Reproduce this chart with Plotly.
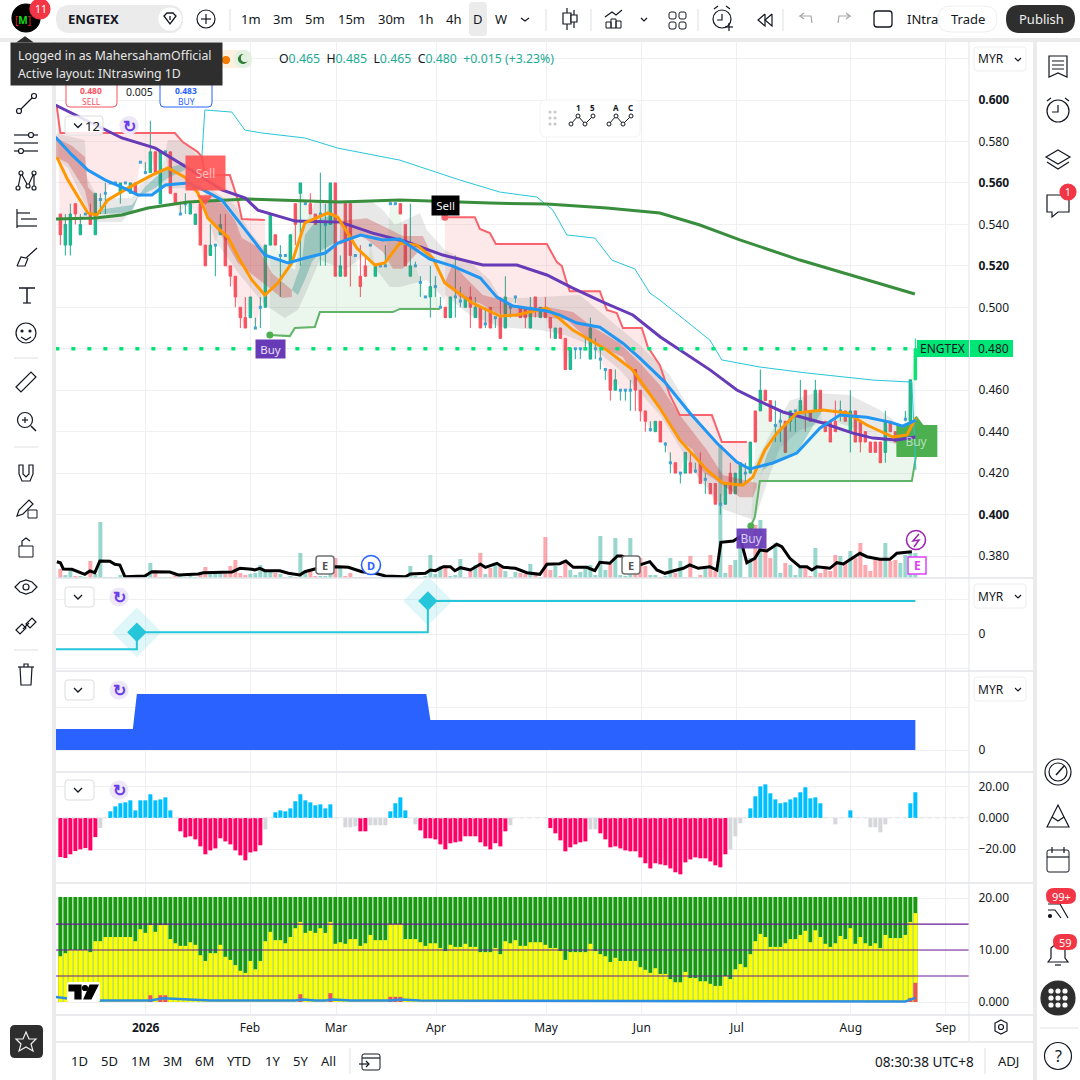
import numpy as np
import plotly.graph_objects as go


# Candles, prices in thousandths of a ringgit, one entry per daily bar
opens = [
    545, 530, 530, 550, 535, 545, 545, 535, 552, 555,
    560, 560, 555, 560, 555, 560, 570, 565, 565, 575,
    550, 575, 575, 555, 545, 550, 545, 540, 550, 530,
    525, 530, 535, 535, 520, 515, 500, 495, 495, 490,
    500, 500, 530, 535, 525, 525, 520, 550, 555, 550,
    550, 545, 545, 540, 540, 560, 515, 550, 550, 525,
    515, 520, 530, 515, 520, 520, 550, 550, 550, 540,
    515, 520, 512, 505, 505, 510, 500, 500, 495, 505,
    503, 500, 505, 495, 500, 492, 500, 495, 495, 490,
    500, 505, 500, 500, 490, 505, 495, 500, 495, 485,
    490, 485, 470, 480, 480, 480, 475, 480, 475, 470,
    470, 460, 460, 460, 460, 470, 460, 450, 441, 440,
    445, 434, 425, 425, 420, 420, 425, 421, 425, 417,
    415, 415, 405, 405, 420, 410, 415, 420, 420, 450,
    450, 460, 455, 443, 445, 445, 445, 450, 450, 460,
    450, 450, 460, 445, 445, 445, 450, 450, 440, 450,
    445, 440, 435, 435, 435, 430, 445, 440, 438, 446, 445, 465]
highs = [
    545, 545, 550, 550, 545, 545, 550, 555, 555, 560,
    560, 560, 560, 560, 560, 560, 570, 570, 590, 575,
    575, 575, 575, 555, 550, 555, 550, 545, 550, 530,
    540, 530, 545, 545, 520, 515, 500, 505, 505, 495,
    505, 530, 545, 535, 530, 525, 535, 550, 560, 550,
    555, 545, 565, 550, 560, 560, 525, 550, 550, 525,
    530, 525, 530, 520, 520, 530, 550, 550, 550, 540,
    550, 522, 515, 505, 520, 515, 505, 500, 505, 525,
    510, 505, 510, 505, 500, 500, 500, 495, 505, 515,
    500, 505, 500, 500, 505, 505, 500, 505, 495, 490,
    490, 485, 480, 480, 480, 485, 495, 485, 480, 470,
    470, 470, 460, 460, 465, 470, 460, 450, 445, 445,
    445, 435, 430, 425, 420, 430, 430, 425, 430, 420,
    415, 415, 410, 415, 425, 420, 425, 425, 435, 450,
    470, 460, 455, 455, 450, 445, 450, 450, 465, 460,
    450, 465, 460, 445, 445, 455, 455, 450, 460, 450,
    445, 440, 435, 435, 435, 450, 445, 440, 440, 450, 465, 485]
lows = [
    530, 525, 525, 540, 535, 545, 540, 535, 545, 545,
    560, 560, 550, 560, 555, 555, 570, 565, 565, 565,
    550, 575, 555, 550, 545, 545, 545, 540, 530, 520,
    525, 515, 535, 520, 510, 500, 490, 490, 495, 490,
    490, 500, 530, 530, 505, 525, 520, 530, 520, 550,
    545, 540, 520, 520, 540, 515, 515, 515, 510, 525,
    505, 515, 530, 515, 520, 520, 550, 550, 545, 520,
    515, 520, 505, 505, 495, 505, 500, 495, 495, 495,
    500, 500, 490, 495, 490, 490, 490, 490, 485, 490,
    495, 502, 495, 490, 490, 495, 495, 495, 485, 485,
    485, 470, 470, 475, 475, 480, 475, 475, 470, 465,
    455, 460, 455, 455, 450, 450, 445, 440, 440, 440,
    435, 430, 420, 420, 415, 420, 420, 420, 415, 410,
    410, 405, 400, 405, 410, 410, 415, 415, 420, 435,
    450, 455, 445, 435, 435, 430, 440, 440, 450, 440,
    445, 450, 450, 440, 435, 440, 445, 445, 430, 435,
    430, 435, 430, 430, 425, 425, 440, 435, 435, 445, 445, 465]
closes = [
    535, 540, 545, 545, 540, 545, 540, 555, 552, 555,
    560, 560, 560, 560, 560, 555, 570, 565, 575, 565,
    575, 575, 555, 550, 545, 550, 550, 545, 530, 520,
    530, 530, 540, 520, 515, 505, 495, 490, 505, 490,
    500, 530, 545, 530, 525, 525, 535, 540, 560, 550,
    545, 540, 545, 540, 560, 515, 520, 515, 525, 525,
    510, 515, 530, 520, 520, 520, 550, 550, 545, 520,
    520, 520, 512, 505, 510, 510, 500, 495, 505, 505,
    503, 505, 500, 500, 490, 492, 490, 495, 485, 505,
    500, 505, 495, 495, 500, 500, 500, 495, 490, 490,
    485, 470, 480, 480, 480, 480, 490, 480, 475, 470,
    460, 465, 460, 460, 460, 460, 450, 445, 441, 445,
    435, 434, 425, 420, 420, 430, 420, 421, 415, 417,
    410, 405, 405, 415, 410, 420, 425, 420, 435, 435,
    460, 455, 445, 443, 445, 430, 450, 450, 455, 450,
    445, 460, 450, 440, 435, 440, 450, 445, 450, 435,
    435, 435, 430, 430, 425, 445, 440, 435, 438, 446, 465, 480]
volumes = [
    9, 3, 7, 2, 2, 1, 17, 4, 56, 1,
    1, 1, 3, 1, 2, 3, 1, 3, 15, 8,
    1, 1, 1, 5, 3, 1, 2, 1, 5, 11,
    4, 4, 4, 4, 12, 18, 5, 3, 4, 5,
    13, 7, 6, 5, 4, 1, 2, 1, 25, 5,
    8, 2, 2, 2, 13, 20, 10, 2, 5, 1,
    1, 1, 1, 1, 1, 1, 1, 1, 1, 1,
    12, 2, 1, 2, 23, 4, 12, 13, 2, 3,
    19, 1, 7, 13, 25, 4, 10, 15, 13, 7,
    1, 6, 5, 4, 14, 4, 1, 41, 8, 12,
    2, 18, 8, 3, 6, 11, 13, 3, 42, 8,
    14, 40, 3, 2, 40, 10, 20, 12, 3, 3,
    1, 2, 20, 5, 17, 1, 22, 1, 3, 12,
    23, 7, 133, 5, 13, 18, 30, 1, 20, 53,
    58, 30, 20, 35, 5, 15, 13, 3, 10, 10,
    2, 30, 5, 12, 7, 23, 22, 15, 27, 20,
    35, 13, 7, 20, 18, 35, 17, 18, 15, 23, 25, 25]

# Overlay lines, (bar index, price in thousandths)
purple_x = [-1, 9, 12.3, 19, 25.5, 32.3, 37, 39.5, 47, 56, 62.5, 69.3, 76.5, 84.5, 91.3, 97.3,
            102.5, 108.5, 114.5, 120, 130, 135.3, 139.3, 144.5, 152.5, 158.5, 162.5, 167.3, 171]
purple_y = [597.6, 585.5, 581.7, 576.8, 567.2, 556.6, 552.7, 546.9, 541.6, 541.1, 535.8, 531.5,
            525.2, 520.4, 520.4, 515.6, 509.3, 502.5, 496.3, 485.7, 469.7, 460.1, 455.3, 449.5,
            444.2, 439.3, 436.9, 436, 437.4]
blue_x = [-1, 2.3, 5.5, 9, 12.3, 15.5, 18.3, 21, 25.5, 28.3, 32.3, 34.9, 37.5, 40.9, 45.5, 49, 53,
          55.5, 60, 64.5, 67.9, 73.9, 78.5, 84, 87.3, 90.5, 97.3, 99.9, 103.3, 107.9, 112.5,
          115.9, 120.9, 125.9, 131.3, 135.3, 137.9, 142.5, 147.3, 151.9, 155.9, 161.3, 165.9,
          168.5, 171.1]
blue_y = [582.1, 573.5, 566.2, 561.4, 558, 554.2, 554.2, 559, 560, 557, 551.8, 543.5, 535.8,
          525.2, 521.4, 523.8, 526.2, 531, 534.9, 532.5, 532.9, 523.3, 519.9, 514.1, 504.9,
          500.6, 498.2, 496.2, 492.4, 490.4, 482.7, 475.5, 463.9, 449, 434.5, 425.3, 422, 424.9,
          429.7, 441.7, 448, 447, 444.6, 442.7, 445.6]
orange_x = [-0.7, 1.5, 5.5, 7.3, 9.5, 13.5, 18.3, 21.5, 24.9, 27.5, 29.5, 31.5, 33.5, 35.9, 38.3,
            40.9, 43.5, 46.3, 48.9, 53.5, 55.5, 59.3, 62.9, 64.9, 67.9, 71.3, 74.5, 76.9, 82.5,
            87.9, 91.3, 97.3, 102.5, 109.3, 114.5, 119.9, 123.9, 129.3, 132.5, 136.5, 138.5,
            140.9, 143.3, 147.3, 152.5, 157.3, 161.3, 166.5, 169.3, 171.1]
orange_y = [572.5, 561.4, 545.5, 544.5, 551.8, 557.5, 563.8, 567.2, 562.8, 555.1, 543.1, 538.2,
            533.9, 522.8, 513.2, 505.9, 511.7, 521.4, 540.7, 545.5, 543.5, 528.6, 520.4, 521.4,
            531, 530, 523.8, 511.7, 502, 495.8, 496.3, 499.6, 489, 479.4, 469.7, 451.4, 435.9,
            421.5, 415.2, 414.2, 418.1, 431.1, 439.3, 449, 450.4, 449, 443.2, 437.4, 438.4, 446.6]
sma_x = [-1, 7, 12.3, 17.5, 25.5, 37.5, 55.9, 67.9, 85.9, 97.3, 109.3, 119.9, 127.9, 135.9, 147.9,
         157.9, 170.9]
sma_y = [542.6, 543.1, 544.5, 547.9, 550.8, 552.2, 550.8, 551.8, 550.3, 549.8, 547.9, 545.5, 539.7,
         532.5, 522.8, 515.6, 506.4]
cyan_x = [28.3, 28.9, 34.3, 36.9, 40.3, 48.9, 55.5, 67.9, 79.9, 87.9, 95.3, 98.5, 101.3, 106.9,
          110.3, 114.9, 117.9, 119.9, 124.9, 129.9, 132.3, 139.9, 149.3, 162.5, 170.3, 171.1]
cyan_y = [572.5, 595.2, 594.2, 585.5, 584.1, 581.7, 576.8, 571, 561.4, 555.6, 553.2, 546.9, 534.9,
          533.4, 522.8, 518.5, 506.9, 503.5, 493.9, 484.2, 474.6, 471.2, 468.3, 464.9, 463.9, 421.5]

# Stop lines
red1_x = [-0.7, 0, 22.9, 24.5, 27.5, 28.3, 28.9, 33.9, 35.5, 36.3, 40.9]
red1_y = [596.6, 584.1, 584.1, 579.7, 574.9, 572.5, 563.8, 563.8, 551.8, 542.6, 542.1]
red2_x = [76.9, 82.9, 83.9, 85.9, 87.1, 97.3, 99.3, 100.3, 101.3, 101.9, 107.9, 109.3, 111.3, 112.5,
          116.3, 117.5, 119.9, 121.9, 123.9, 130.3, 132.3, 137.3]
red2_y = [543.5, 543.5, 537.8, 535.8, 530.5, 530.5, 521.8, 519.9, 511.7, 507.8, 507.8, 498.7, 497.2,
          490, 490, 480.8, 472.1, 457.7, 448, 448, 435, 435]
green1_x = [41.9, 45.9, 46.9, 50.9, 51.9, 66.5, 67.9, 75.9]
green1_y = [486.6, 486.1, 490, 490.5, 497.7, 497.7, 499.2, 499.2]
green2_x = [138.1, 138.9, 139.9, 170.3, 171.1]
green2_y = [394.5, 398.8, 416.2, 416.2, 427.7]

# Ribbons and clouds, outline read as upper side then lower side
cloud1_x = [-1, 4.9, 5.3, 7.5, 14.3, 15.9, 20.3, 21.5, 24.3, 27.5, 28.3,
            28.3, 25.5, 20.3, 15.5, 14.5, 12.3, 7.5, 5.5, 1.5, -1]
cloud1_y = [584, 580.7, 562.8, 552.7, 552.7, 559, 567.2, 580.7, 580.7, 573, 564.8,
            557.5, 557.5, 557.5, 552.7, 547.9, 541.2, 541.2, 547, 567.2, 572.5]
cloud2_x = [28.9, 34.9, 37.9, 41.9, 46.9, 48.5, 51.1, 56.9, 56.9, 51.9, 48.9, 47.5, 44.9, 40.9, 35.9, 30.9, 28.9]
cloud2_y = [559, 549.3, 536.3, 525.2, 518, 537.3, 551.8, 551.8, 518, 522.8, 505.9, 498.7, 494.8, 501.1, 515.6, 532.5, 549.3]
cloud3_x = [56.9, 61.9, 64.5, 66.9, 71.9, 73.3, 76.9, 76.9, 73.3, 67.9, 65.9, 60.9, 56.9]
cloud3_y = [551.8, 551.8, 547, 539.7, 545.5, 537.3, 527.6, 503.5, 513.2, 509.8, 509.8, 525.2, 518]
cloud4_x = [76.9, 81.9, 85.9, 87.9, 91.9, 103.9, 109.9, 115.9, 121.9, 125.9, 130.9, 133.9, 138.3, 141.9,
            145.9, 150.9, 157.9, 163.9, 167.9, 171.1, 171.1, 167.9, 163.9, 159.9, 153.9, 147.9, 143.9,
            141.5, 138.9, 132.9, 127.9, 124.9, 119.9, 111.9, 105.9, 100.9, 95.9, 87.9, 81.9, 76.9]
cloud4_y = [527.6, 521.8, 513.2, 505, 504.5, 505.9, 493.9, 481.8, 467.3, 450.4, 436, 428.7, 421.5, 438.4,
            455, 458.6, 457.7, 450.4, 443.2, 445.6, 436, 433.5, 436, 440.8, 445.6, 440.8, 432.1,
            416.7, 397.3, 402.2, 416.7, 428.7, 448, 469.7, 481.8, 486.6, 489, 490.5, 496.3, 505.9]
ribbon1_x = [-1, 2.3, 4.9, 5.5, 7.3, 7.3, 5.9, 4.9, 1.5, -1]
ribbon1_y = [582, 578, 572.5, 558, 553.2, 544.5, 545.5, 556.6, 569.6, 572.5]
ribbon2_x = [28.3, 32.3, 34.9, 36.3, 39.5, 42.3, 46.3, 46.3, 44.3, 41.5, 38.9, 35.5, 32.9, 29.5, 28.3]
ribbon2_y = [553.2, 550.3, 542.1, 533.4, 529.1, 516.5, 508.3, 505, 504.5, 509.8, 514.6, 521.4, 532.5, 543.5, 550.3]
ribbon3_x = [55.9, 61.3, 64.5, 68.5, 72.5, 74.9, 72, 68.5, 66.5, 64.5, 60, 55.9]
ribbon3_y = [541.6, 543, 539.2, 534.4, 534.4, 522.3, 528, 518.6, 518.6, 526.8, 534.9, 530.1]
ribbon4_x = [76.9, 78.5, 80.9, 84.5, 88.5, 91.9, 97.3, 102.5, 106.5, 111.9, 115.9, 119.9, 123.9, 125.9,
             129.3, 132.5, 139.3, 139.3, 138.5, 135.9, 131.9, 128.5, 126.5, 123.9, 120.5, 115.9, 112.5,
             106.5, 101.3, 96.5, 91.3, 87.3, 83.9, 79.9]
ribbon4_y = [511.7, 521.4, 514.6, 505.9, 503.5, 500.1, 500.1, 497.7, 490.5, 482.7, 473.1, 462.5, 448, 441.7,
             431.1, 419.1, 415.2, 413.3, 408.4, 408.4, 415.2, 420.5, 431.1, 435.9, 450.4, 462.5, 476,
             482.8, 493.9, 495.3, 495.3, 497.2, 502, 504.9]
teal1_x = [7.5, 14.3, 16.9, 18.9, 21.5, 24.9, 24.9, 21.5, 18.9, 15.5, 14.3, 7.5]
teal1_y = [546.9, 549.3, 558, 562.4, 567.2, 569.6, 566.2, 562.4, 557.5, 553.2, 545.5, 545]
teal2_x = [46.3, 48.3, 48.9, 50.3, 52.3, 54.9, 54.9, 52.3, 50.3, 48.9, 47.5]
teal2_y = [508.3, 521.8, 534.9, 539.2, 543.1, 544.5, 531, 527.6, 521.8, 513.2, 505.9]
teal3_x = [139.9, 141.3, 143.3, 147.3, 152.5, 147.3, 142.5, 140.5]
teal3_y = [417.6, 428.7, 439.3, 449, 450.4, 429.7, 424.9, 421.5]

# Green buy flag, sits under the lines
flag_x = [167.2, 175.4, 175.4, 167.2]
flag_y = [443.2, 443.2, 427.8, 427.8]

# Black line over the volume bars, same units as volumes
black_x = [-0.7, 0, 0.6, 2.3, 4.9, 5.9, 6.9, 7.9, 9.9, 10.9, 11.9, 12.9, 16.9, 18.3, 21.9, 23.6, 27.6,
           28.6, 34.3, 35.9, 38.3, 38.9, 39.9, 40.9, 43.9, 45.6, 47.9, 48.9, 50.9, 52.9, 55.6, 57.6,
           60.3, 63, 65, 69, 70, 73, 74, 75, 76.6, 78, 78.9, 80, 82, 84, 85, 87.3, 88.6, 91, 93.3,
           95.9, 97.3, 99.9, 101.1, 102.6, 105.3, 106.9, 107.9, 109.9, 111.4, 112.3, 115.9, 117.9,
           119.3, 120.9, 123.3, 124.6, 125.9, 127.6, 129.9, 131.3, 132.1, 134.6, 135.9, 137.3, 138.9,
           139.9, 141.3, 143.3, 144.3, 145.9, 147.9, 149.3, 150.3, 151.3, 153.9, 155.3, 156.6, 159.9,
           161.3, 163.9, 165.9, 167.3, 170.3]
black_y = [16.3, 15.3, 9, 8.7, 3.7, 7, 5.3, 17, 16.7, 13.7, 13, 1.3, 2, 6.3, 6, 3, 4,
           5.3, 6, 9.7, 8.7, 8, 9.7, 7.3, 7.3, 4.7, 3, 6.3, 9, 11, 11.3, 10.7,
           6.3, 4.7, 2, 1.3, 4, 4.7, 8, 7.3, 11.3, 11.3, 7.3, 10.3, 8, 13.7, 10.7, 14.7, 10.7, 9.7, 5.3,
           3.7, 13.7, 14.3, 17, 10.7, 10.7, 7.3, 15.7, 14.7, 22, 22, 13, 16.3,
           8, 4.7, 8, 9.7, 13, 9.7, 11.3, 8, 35.7, 37, 41.3, 15.3, 19.7,
           28, 27, 33.7, 31.3, 19.7, 11.3, 11.3, 8, 11.3, 9.7, 15.3, 14, 24.7,
           21.3, 18.7, 18.7, 24.7, 26.3]

# Second pane, step line with two diamonds
step_x = [-1, 15.3, 15.3, 73.5, 73.5, 171]
step_y = [-0.44, -0.44, 0.05, 0.05, 0.96, 0.96]
diamond_x = [15.3, 73.5]
diamond_y = [0.05, 0.96]

# Third pane, blue area
area_x = [-1, 14.5, 15.3, 73.2, 74, 171]
area_y = [21, 21, 56, 56, 30, 30]

# Fourth pane, histogram
hist_values = [
    -25.2, -25.8, -23.4, -21.3, -20.2, -19.4, -20.9, -12.3, -6.5, 0,
    4.3, 7.5, 9.5, 10.1, 11.4, 4.9, 11.4, 11.4, 15.3, 11.4,
    12, 13.3, 4.9, 0, -8.6, -12.5, -11.8, -13.8, -18.3, -23.4,
    -20.9, -19.6, -13.1, -15.1, -17, -20.9, -24.1, -27.3, -22.2, -21.5,
    -17.6, -7.3, 0, 3.7, 4.9, 4.3, 6.2, 10.8, 15.3, 11.4,
    10.1, 8.2, 8.8, 6.2, 8.8, 0, 0, -6, -6, -5.4,
    -8.6, -8.6, -4.7, -4.7, -4.7, -4.7, 4.3, 9.5, 13.3, 4.9,
    0, -4.1, -8, -13.1, -13.1, -13.8, -17, -20.2, -16.3, -15.7,
    -15.1, -11.8, -11.8, -11.8, -15.7, -18.3, -20.2, -16.3, -18.3, -8.6,
    -4.7, 0, 0, 0, 0, 0, 0, 0, -6.5, -9.9,
    -14.4, -21.5, -18.9, -17, -15.7, -15.1, -7.3, -7.3, -9.9, -13.8,
    -18.9, -18.3, -19.6, -20.9, -21.5, -21.5, -25.4, -29.2, -32.5, -29.2,
    -29.9, -30.5, -32.5, -35, -36.3, -28.6, -26.7, -25.4, -26, -26,
    -28, -30.5, -31.8, -23.4, -20.2, -11.8, -3.4, 0, 6.2, 14,
    20.4, 21.7, 15.9, 12, 9.5, 10.1, 12, 13.3, 16.6, 19.8,
    12.7, 13.3, 9.5, 0, 0, -4.1, 0, 0, 4.9, 0,
    0, 0, -6, -6, -9.2, -4.1, 0, 0, 0, 0, 9.5, 16.6]
hist_gray = [8, 41, 57, 58, 59, 62, 63, 64, 65, 71, 90, 106, 107, 134, 135, 136, 155, 162, 163, 164, 165]

# Fifth pane, overlaid columns and levels
column_top = 20.2
yellow_values = [
    8.8, 9.4, 10, 10, 10, 10, 9.6, 11.7, 11.7, 12.5,
    12.5, 12.5, 12.5, 12.5, 12.5, 11.7, 14, 13.3, 14.8, 13.5,
    14.8, 14.8, 12.1, 11.3, 10.8, 10.8, 11.5, 11, 9, 7.9,
    9.4, 9.4, 11, 8.7, 8.1, 7.1, 6, 5.6, 7.9, 6.3,
    7.9, 11.7, 13.5, 11.9, 11.9, 11.3, 12.5, 14.2, 15.4, 13.3,
    13.7, 13.3, 14.2, 13.3, 15.4, 11.2, 11.5, 11.2, 12.1, 12.1,
    10.8, 11.3, 12.9, 11.9, 11.9, 11.9, 15, 15, 15, 12.1,
    12.1, 12.1, 11.5, 10.8, 11.3, 11.3, 10.4, 9.8, 11, 10.6,
    10.6, 11.2, 10.6, 10.6, 9.6, 9.6, 9.6, 10.4, 9.2, 11.7,
    11.3, 11.9, 10.8, 10.8, 11.5, 11.5, 11.5, 11, 10.4, 10.4,
    9.8, 8.1, 9.6, 9.6, 9.6, 9.6, 11.2, 9.8, 9.2, 8.8,
    7.7, 8.5, 7.9, 7.9, 7.9, 7.9, 6.7, 6.2, 5.6, 6.5,
    5.4, 5.4, 4.4, 3.8, 3.8, 5.8, 4.6, 4.6, 4, 4,
    3.5, 3.1, 3.1, 5, 4.4, 6.3, 7.3, 6.7, 9.2, 11.7,
    13.1, 12.5, 10.6, 10.6, 10.6, 11.3, 12.1, 12.1, 12.9, 13.7,
    11.5, 13.8, 12.5, 11.2, 10.6, 11.3, 12.7, 12.1, 14.2, 11.2,
    12.5, 11.3, 10.8, 11.3, 10.4, 12.9, 12.3, 12.3, 12.3, 12.9, 15.4, 17.1]
red_x = [18, 20, 21, 48, 54, 66, 67, 68, 170, 171]
red_values = [1.3, 1.3, 1.3, 1.5, 1.7, 1, 1, 1, 0.8, 3.7]
line5_x = [-1, 3, 6, 18, 20.5, 24, 30, 47, 48.5, 51, 53, 54.5, 58, 66, 68, 72, 169, 171]
line5_y = [1, 0.5, 0.3, 0.3, 0.7, 0.5, 0.3, 0.3, 0.5, 0.3, 0.3, 0.5, 0.3, 0.3, 0.5, 0.3, 0.1, 0.8]
levels = [15, 10, 5]

# Axis labels
month_ticks = [17.07, 37.93, 55.13, 75.13, 97.13, 116.3, 135.3, 158.1, 177.1]
month_labels = ['<b>2026</b>', 'Feb', 'Mar', 'Apr', 'May', 'Jun', 'Jul', 'Aug', 'Sep']
price_ticks = [0.38, 0.40, 0.42, 0.44, 0.46, 0.48, 0.50, 0.52, 0.54, 0.56, 0.58, 0.60, 0.62]
price_labels = ['0.380', '<b>0.400</b>', '0.420', '0.440', '0.460', '', '0.500', '<b>0.520</b>',
                '0.540', '<b>0.560</b>', '0.580', '<b>0.600</b>', '']
last_price = 0.48


INK = '#131722'
GRID = '#f0f0f3'
EDGE = '#e3e4e8'
TEAL = '#22ab94'
BULL = '#0fc48a'
BEAR = '#f7525f'
FONT = 'Noto Sans'
WIDTH = 1080
HEIGHT = 1080

bars = np.arange(len(closes))
o = np.array(opens) / 1000
h = np.array(highs) / 1000
l = np.array(lows) / 1000
c = np.array(closes) / 1000
is_doji = o == c
is_last = bars == bars[-1]
body = ~is_doji & ~is_last

fig = go.Figure()


def add(trace):
    trace.showlegend = False
    trace.hoverinfo = 'skip'
    fig.add_trace(trace)


def add_poly(xs, ys, color, yaxis='y2'):
    add(go.Scatter(x=xs, y=np.array(ys) / 1000, mode='lines', line=dict(width=0), fill='toself',
                   fillcolor=color, xaxis='x', yaxis=yaxis))


def add_price_line(xs, ys, color, width):
    add(go.Scatter(x=xs, y=np.array(ys) / 1000, mode='lines', line=dict(color=color, width=width),
                   xaxis='x', yaxis='y2'))


# Volume first, so the price axis sits over it
add(go.Bar(x=bars, y=volumes, width=0.8, xaxis='x', yaxis='y',
           marker=dict(color=['rgba(247,82,95,0.5)' if a < b else 'rgba(34,171,148,0.47)'
                              for a, b in zip(c, o)], line_width=0)))

# Fill between the stops and the closes
add_poly(red1_x + list(bars[41::-1]), red1_y + list(np.array(closes)[41::-1]), 'rgba(247,82,95,0.13)')
add_poly(green1_x + list(bars[77:41:-1]), green1_y + list(np.array(closes)[77:41:-1]), 'rgba(76,175,80,0.11)')
add_poly(red2_x + list(bars[138:76:-1]), red2_y + list(np.array(closes)[138:76:-1]), 'rgba(247,82,95,0.13)')
add_poly(green2_x + list(bars[:138:-1]), green2_y + list(np.array(closes)[:138:-1]), 'rgba(76,175,80,0.11)')

# Candles
add(go.Candlestick(x=bars[body], open=o[body], high=h[body], low=l[body], close=c[body], xaxis='x', yaxis='y2',
                   whiskerwidth=0,
                   increasing=dict(line=dict(color=TEAL, width=1), fillcolor=BULL),
                   decreasing=dict(line=dict(color=BEAR, width=1), fillcolor=BEAR)))
add(go.Candlestick(x=bars[is_doji], open=o[is_doji], high=h[is_doji], low=l[is_doji], close=c[is_doji],
                   xaxis='x', yaxis='y2', whiskerwidth=0,
                   increasing=dict(line=dict(color=TEAL, width=1), fillcolor=TEAL),
                   decreasing=dict(line=dict(color=TEAL, width=1), fillcolor=TEAL)))
add(go.Candlestick(x=bars[is_last], open=o[is_last], high=h[is_last], low=l[is_last], close=c[is_last],
                   xaxis='x', yaxis='y2', whiskerwidth=0,
                   increasing=dict(line=dict(color='#00e676', width=1), fillcolor='#00e676')))
add(go.Scatter(x=bars[is_doji], y=c[is_doji], mode='markers', xaxis='x', yaxis='y2',
               marker=dict(symbol='square', size=3, color='#3fa3d6')))

# Clouds and ribbons
for xs, ys in [(cloud1_x, cloud1_y), (cloud2_x, cloud2_y), (cloud3_x, cloud3_y), (cloud4_x, cloud4_y)]:
    add_poly(xs, ys, 'rgba(120,120,120,0.17)')
for xs, ys in [(ribbon1_x, ribbon1_y), (ribbon2_x, ribbon2_y), (ribbon3_x, ribbon3_y), (ribbon4_x, ribbon4_y)]:
    add_poly(xs, ys, 'rgba(200,50,50,0.3)')
for xs, ys in [(teal1_x, teal1_y), (teal2_x, teal2_y), (teal3_x, teal3_y)]:
    add_poly(xs, ys, 'rgba(0,128,120,0.28)')

# Buy flag under the lines
add_poly(flag_x, flag_y, '#4caf50')
add(go.Scatter(x=[171.2], y=[0.4445], mode='markers', xaxis='x', yaxis='y2',
               marker=dict(symbol='triangle-up', size=13, color='#4caf50')))

# Lines
add_price_line(red1_x, red1_y, '#f9636c', 2)
add_price_line(red2_x, red2_y, '#f9636c', 2)
add_price_line(green1_x, green1_y, '#62b368', 2)
add_price_line(green2_x, green2_y, '#62b368', 2)
add_price_line(cyan_x, cyan_y, '#26c6da', 1)
add_price_line(sma_x, sma_y, '#388e3c', 3)
add_price_line(purple_x, purple_y, '#673ab7', 3)
add_price_line(orange_x, orange_y, '#ff9800', 3)
add_price_line(blue_x, blue_y, '#2196f3', 3)
add(go.Scatter(x=[-1, 170.5], y=[last_price, last_price], mode='lines', xaxis='x', yaxis='y2',
               line=dict(color='#00e676', width=3.5, dash='4px,12px')))

# Signal pointers
add(go.Scatter(x=[41.9, 138.1], y=[0.4866, 0.3945], mode='markers', xaxis='x', yaxis='y2',
               marker=dict(size=7, color='#4caf50')))
add(go.Scatter(x=[76.9], y=[0.5435], mode='markers', xaxis='x', yaxis='y2',
               marker=dict(size=7, color='#f9636c')))
add(go.Scatter(x=[29], y=[0.5525], mode='markers', xaxis='x', yaxis='y2',
               marker=dict(symbol='triangle-down', size=13, color='rgba(255,82,82,0.9)')))

# Black line on its own overlay
add(go.Scatter(x=black_x, y=black_y, mode='lines', xaxis='x', yaxis='y3', line=dict(color='#000000', width=3)))

# Pane 2
add(go.Scatter(x=step_x, y=step_y, mode='lines', xaxis='x2', yaxis='y4', line=dict(color='#26c6da', width=2)))
add(go.Scatter(x=diamond_x, y=diamond_y, mode='markers', xaxis='x2', yaxis='y4',
               marker=dict(symbol='diamond', size=38, color='rgba(38,198,218,0.15)')))
add(go.Scatter(x=diamond_x, y=diamond_y, mode='markers', xaxis='x2', yaxis='y4',
               marker=dict(symbol='diamond', size=15, color='#26c6da')))

# Pane 3
add(go.Scatter(x=area_x, y=area_y, mode='lines', xaxis='x3', yaxis='y5', line=dict(color='#2962ff', width=0),
               fill='tozeroy', fillcolor='#2962ff'))

# Pane 4
hist_colors = ['#d6d7db' if i in hist_gray else ('#00bfff' if v > 0 else '#ff0066')
               for i, v in enumerate(hist_values)]
add(go.Bar(x=bars, y=hist_values, width=0.8, xaxis='x4', yaxis='y6', marker=dict(color=hist_colors, line_width=0)))
add(go.Scatter(x=[-1, 182], y=[0, 0], mode='lines', xaxis='x4', yaxis='y6',
               line=dict(color='#e3e4e8', width=1, dash='4px,4px')))

# Pane 5
add(go.Bar(x=bars, y=[column_top] * len(bars), width=0.8, xaxis='x5', yaxis='y7',
           marker=dict(color='#16990f', line_width=0)))
add(go.Bar(x=bars, y=yellow_values, width=0.8, xaxis='x5', yaxis='y7', marker=dict(color='#ffff00', line_width=0)))
add(go.Bar(x=red_x, y=red_values, width=0.8, xaxis='x5', yaxis='y7', marker=dict(color='#f2505a', line_width=0)))
for level in levels:
    add(go.Scatter(x=[-1, 182], y=[level, level], mode='lines', xaxis='x5', yaxis='y7',
                   line=dict(color='#6a1b9a', width=1.2)))
add(go.Scatter(x=line5_x, y=line5_y, mode='lines', xaxis='x5', yaxis='y7', line=dict(color='#2e8fe0', width=2.5)))


# Page furniture, positions in screen pixels
shapes = []
notes = []


def fx(x):
    return x / WIDTH


def fy(y):
    return 1 - y / HEIGHT


def path(pts, color=INK, width=1.2, fill=None, close=False):
    d = 'M' + ' L'.join(f'{fx(x):.5f},{fy(y):.5f}' for x, y in pts) + (' Z' if close else '')
    shapes.append(dict(type='path', xref='paper', yref='paper', path=d, line=dict(color=color, width=width),
                       fillcolor=fill or 'rgba(0,0,0,0)'))


def box(x0, y0, x1, y1, fill='rgba(0,0,0,0)', line=None, width=1, r=0):
    if r == 0:
        shapes.append(dict(type='rect', xref='paper', yref='paper', x0=fx(x0), x1=fx(x1), y0=fy(y0), y1=fy(y1),
                           fillcolor=fill, line=dict(color=line or 'rgba(0,0,0,0)', width=width)))
        return
    d = (f'M{fx(x0 + r)},{fy(y0)} L{fx(x1 - r)},{fy(y0)} Q{fx(x1)},{fy(y0)} {fx(x1)},{fy(y0 + r)} '
         f'L{fx(x1)},{fy(y1 - r)} Q{fx(x1)},{fy(y1)} {fx(x1 - r)},{fy(y1)} '
         f'L{fx(x0 + r)},{fy(y1)} Q{fx(x0)},{fy(y1)} {fx(x0)},{fy(y1 - r)} '
         f'L{fx(x0)},{fy(y0 + r)} Q{fx(x0)},{fy(y0)} {fx(x0 + r)},{fy(y0)} Z')
    shapes.append(dict(type='path', xref='paper', yref='paper', path=d, fillcolor=fill,
                       line=dict(color=line or 'rgba(0,0,0,0)', width=width)))


def circle(cx, cy, r, fill='rgba(0,0,0,0)', line=INK, width=1.2):
    shapes.append(dict(type='circle', xref='paper', yref='paper', x0=fx(cx - r), x1=fx(cx + r),
                       y0=fy(cy - r), y1=fy(cy + r), fillcolor=fill, line=dict(color=line, width=width)))


def text(x, y, s, size=13, color=INK, anchor='center'):
    # Left anchored annotations carry a small inner pad
    if anchor == 'left':
        x -= 2
    notes.append(dict(xref='paper', yref='paper', x=fx(x), y=fy(y), text=s, showarrow=False, xanchor=anchor,
                      yanchor='middle', font=dict(family=FONT, size=size, color=color)))


def tag(i, price, s, w, h_, bg, size=12, color='rgba(255,255,255,0.6)'):
    notes.append(dict(xref='x', yref='y2', x=i, y=price, text=s, showarrow=False, width=w, height=h_, bgcolor=bg,
                      font=dict(family=FONT, size=size, color=color), borderpad=0))


# Frame gaps and pane borders
box(0, 38, 1080, 42, fill='#ebebeb')
box(52, 42, 56, 1080, fill='#ebebeb')
box(1033, 42, 1037, 1080, fill='#ebebeb')
box(56, 1041, 1033, 1043, fill='#ebebeb')
for y in [578, 671, 772, 883, 1015]:
    path([(56, y), (1033, y)], color=EDGE, width=1.5)
path([(969, 42), (969, 1041)], color=EDGE, width=1)

# Top bar
circle(26, 18, 14, fill='#000000', line='#000000')
text(23, 20, '<span style="color:#e02020">[</span><b>M</b><span style="color:#e02020">]</span>', size=10,
     color='#18d818')
circle(40, 9, 10, fill='#f23645', line='#f23645')
text(41, 9, '11', size=10.5, color='#ffffff')
box(56, 5, 183, 33, fill='#ebebeb', r=14)
text(68, 19, '<b>ENGTEX</b>', size=13, anchor='left')
circle(170, 19, 11, fill='#ffffff', line='#ffffff')
path([(164, 16), (167, 13), (173, 13), (176, 16), (170, 24)], width=1.3, close=True)
path([(170, 16), (170, 20)], width=1.3)
circle(206, 19, 9)
path([(201, 19), (211, 19)])
path([(206, 14), (206, 24)])
path([(230, 9), (230, 31)], color=EDGE)
box(469, 2, 487, 36, fill='#ebebeb', r=4)
for x, s in [(251, '1m'), (283, '3m'), (315, '5m'), (351, '15m'), (391, '30m'), (425, '1h'), (453, '4h'),
             (478, 'D'), (501, 'W')]:
    text(x, 19, s, size=13)
path([(521, 18), (525, 21), (529, 18)])
path([(546, 9), (546, 31)], color=EDGE)
path([(567, 8), (567, 30)])
box(563, 13, 571, 24, fill='#ffffff', line=INK, width=1.2)
path([(574, 10), (574, 28)])
box(571, 15, 577, 22, fill='#ffffff', line=INK, width=1.2)
path([(591, 9), (591, 31)], color=EDGE)
path([(605, 17), (612, 12), (616, 15), (622, 10)])
box(606, 22, 611, 28, line=INK)
box(611, 19, 616, 28, line=INK)
box(616, 21, 621, 28, line=INK)
path([(641, 18), (644, 21), (647, 18)])
for x0 in [669, 679]:
    for y0 in [12, 22]:
        box(x0, y0, x0 + 7, y0 + 7, line=INK, r=2)
path([(698, 9), (698, 31)], color=EDGE)
circle(722, 19, 9)
path([(722, 14), (722, 20), (717, 20)])
path([(714, 9), (718, 6)])
path([(730, 9), (726, 6)])
path([(729, 23), (729, 31)])
path([(725, 27), (733, 27)])
path([(765, 14), (758, 20), (765, 26), (765, 14)])
path([(772, 14), (765, 20), (772, 26), (772, 14)])
path([(783, 9), (783, 31)], color=EDGE)
path([(812, 23), (811, 16), (800, 16), (804, 13)], color='#a8a8a8')
path([(800, 16), (804, 19)], color='#a8a8a8')
path([(838, 23), (839, 16), (850, 16), (846, 13)], color='#a8a8a8')
path([(850, 16), (846, 19)], color='#a8a8a8')
box(874, 11, 892, 27, line=INK, width=1.3, r=3)
text(907, 19, 'INtra', size=13, anchor='left')
box(938, 6, 997, 32, fill='#ffffff', line='#eeeeee', r=13)
text(968, 19, 'Trade', size=13)
box(1006, 5, 1075, 33, fill='#2e2e2e', r=14)
text(1041, 19, 'Publish', size=13, color='#f0f0f0')

# Symbol legend
box(216, 50, 252, 68, fill='#fdf0de', r=9)
box(234, 50, 252, 68, fill='#e3f1e3', r=9)
circle(226, 60, 3.5, fill='#f57c00', line='#f57c00')
circle(243, 59, 4.5, fill='#2e7d32', line='#2e7d32')
circle(245, 58, 3.5, fill='#e3f1e3', line='#e3f1e3')
t = '#22ab94'
text(279, 59, f'O<span style="color:{t}">0.465</span>  H<span style="color:{t}">0.485</span>  '
     f'L<span style="color:{t}">0.465</span>  C<span style="color:{t}">0.480</span>  '
     f'<span style="color:{t}">+0.015 (+3.23%)</span>', size=12.3, anchor='left')

# Buy and sell buttons, just below the tooltip
box(66, 76, 117, 107, fill='#ffffff', line='#f7525f', r=4)
box(160, 76, 212, 107, fill='#ffffff', line='#2962ff', r=4)
text(91, 90, '<b>0.480</b>', size=8.5, color='#f7525f')
text(91, 101.5, 'SELL', size=8.5, color='#f7525f')
text(186, 90, '<b>0.483</b>', size=8.5, color='#2962ff')
text(186, 101.5, 'BUY', size=8.5, color='#2962ff')
text(139, 92, '0.005', size=10.5)


def pane_controls(x0, y0, x1, y1, label_text=None):
    box(x0, y0, x1, y1, fill='rgba(255,255,255,0.85)', line='#dcdde0', r=3)
    cy = (y0 + y1) / 2
    path([(x0 + 9, cy - 2), (x0 + 13, cy + 2), (x0 + 17, cy - 2)], width=1.3)
    if label_text:
        text(x0 + 27, cy, label_text, size=13)
    circle(x0 + (64 if label_text else 54), cy, 9, fill='#ede7f6', line='#ede7f6')
    text(x0 + (64 if label_text else 54), cy, '<b>↻</b>', size=16, color='#6a3de8')


pane_controls(65, 116, 103, 135, '12')
pane_controls(65, 587, 94, 607)
pane_controls(65, 680, 94, 700)
pane_controls(65, 780, 94, 800)

# Pattern widget
box(540, 100, 640, 137, fill='#ffffff', line='#f3f3f3', r=6)
for y in [112, 118, 124]:
    for x in [550, 555]:
        circle(x, y, 1, fill='#c8c8c8', line='#c8c8c8')
for x0, a, b in [(571, '1', '5'), (609, 'A', 'C')]:
    path([(x0, 124), (x0 + 7, 116), (x0 + 14, 124), (x0 + 22, 116)], width=1)
    for dx, dy in [(0, 124), (7, 116), (14, 124), (22, 116)]:
        circle(x0 + dx, dy, 2, fill='#ffffff', line=INK, width=1)
    text(x0 + 7, 108, f'<b>{a}</b>', size=8)
    text(x0 + 21, 108, f'<b>{b}</b>', size=8)

# Currency buttons
for y0 in [47, 584, 677]:
    box(974, y0, 1026, y0 + 24, fill='#ffffff', line='#eeeeee', r=3)
    text(978, y0 + 12, 'MYR', size=12, anchor='left')
    path([(1015, y0 + 11), (1018, y0 + 14), (1021, y0 + 11)], width=1.2)

# Last price tag
box(917, 340, 969, 357, fill='#00e676')
box(970, 340, 1013, 357, fill='#00e676')
text(920, 348.5, 'ENGTEX', size=12, anchor='left')
text(978, 348.5, '0.480', size=12, anchor='left')

# Event flags
box(316, 556, 334, 574, fill='#ffffff', line='#707070', width=1.5, r=3)
text(325, 565, '<b>E</b>', size=11, color='#555555')
box(622, 556, 640, 574, fill='#ffffff', line='#707070', width=1.5, r=3)
text(631, 565, '<b>E</b>', size=11, color='#555555')
circle(371, 565, 9.5, fill='#ffffff', line='#2962ff', width=1.6)
text(371, 565, '<b>D</b>', size=11, color='#2962ff')
circle(916, 540, 9.5, fill='#ffffff', line='#9c27b0', width=1.6)
path([(919, 534), (913, 541), (919, 540), (914, 547)], color='#9c27b0', width=1.5)
box(908, 557, 926, 574, fill='#ffffff', line='#e040fb', width=1.5)
text(917, 565.5, '<b>E</b>', size=12, color='#e040fb')

# Watermark logo
box(67, 982, 100, 1002, fill='#ffffff', r=2)
path([(69, 985), (81, 985), (81, 999), (75, 999), (75, 991), (69, 991)], color='#000000', fill='#000000', close=True)
circle(85, 988, 2.5, fill='#000000', line='#000000')
path([(84, 999), (90, 985), (98, 985), (91, 999)], color='#000000', fill='#000000', close=True)

# Left toolbar
path([(20, 110), (33, 97)])
circle(19, 111, 2.5, fill='#ffffff')
circle(34, 96, 2.5, fill='#ffffff')
for y in [135, 143, 151]:
    path([(14, y), (38, y)])
circle(31, 135, 2.5, fill='#ffffff')
circle(21, 151, 2.5, fill='#ffffff')
path([(18, 188), (21, 173), (28, 186), (34, 173), (34, 188)])
for x, y in [(18, 188), (21, 173), (28, 186), (34, 173), (34, 188)]:
    circle(x, y, 2, fill='#ffffff')
path([(17, 209), (17, 228)])
path([(17, 213), (30, 213)])
path([(21, 219), (37, 219)])
path([(17, 226), (37, 226)])
path([(17, 266), (21, 257), (26, 258), (37, 248)])
path([(17, 266), (25, 266), (28, 258)])
path([(19, 288), (35, 288)], width=1.5)
path([(27, 288), (27, 303)], width=1.5)
path([(23, 303), (31, 303)])
circle(26, 333, 10)
circle(22, 331, 1, fill=INK)
circle(30, 331, 1, fill=INK)
path([(21, 337), (26, 340), (31, 337)])
path([(16, 387), (31, 372), (36, 377), (21, 392)], close=True)
circle(25, 420, 7.5)
path([(31, 426), (36, 431)], width=1.5)
path([(22, 420), (28, 420)])
path([(25, 417), (25, 423)])
path([(19, 465), (19, 474), (22, 481), (30, 481), (33, 474), (33, 465), (29, 465), (29, 474), (26, 477),
      (23, 474), (23, 465)], close=True)
path([(17, 516), (19, 510), (29, 500), (33, 504), (23, 514)], close=True)
box(28, 510, 37, 518, line=INK)
box(19, 546, 33, 557, line=INK)
path([(22, 546), (22, 541), (26, 538), (30, 541)])
path([(15, 587), (20, 582), (26, 580), (32, 582), (37, 587), (32, 592), (26, 594), (20, 592)], close=True)
circle(26, 587, 3)
path([(16, 630), (22, 624), (26, 628), (20, 634)], close=True)
path([(26, 624), (32, 618), (36, 622), (30, 628)], close=True)
path([(23, 629), (29, 623)])
path([(18, 667), (34, 667)])
path([(20, 667), (21, 685), (31, 685), (32, 667)])
path([(24, 667), (24, 664), (28, 664), (28, 667)])
for y in [358, 447, 650]:
    path([(14, y), (38, y)], color=EDGE)
box(10, 1025, 43, 1058, fill='#2e2e2e', r=5)
path([(26, 1032), (29, 1039), (36, 1039), (31, 1044), (33, 1051), (26, 1047), (19, 1051), (21, 1044), (16, 1039),
      (23, 1039)], color='#f0f0f0', close=True)

# Right toolbar
path([(1049, 56), (1067, 56), (1067, 77), (1058, 73), (1049, 77)], close=True)
for y in [61, 65, 69]:
    path([(1052, y), (1064, y)], width=1)
circle(1058, 111, 11)
path([(1058, 105), (1058, 112), (1052, 112)])
path([(1047, 101), (1051, 98)])
path([(1069, 101), (1065, 98)])
path([(1058, 150), (1070, 157), (1058, 164), (1046, 157)], close=True)
path([(1047, 162), (1058, 169), (1069, 162)])
path([(1047, 195), (1069, 195), (1069, 212), (1058, 212), (1052, 217), (1052, 212), (1047, 212)], close=True)
circle(1068, 192, 8, fill='#f23645', line='#f23645')
text(1068, 192, '1', size=10, color='#ffffff')
circle(1058, 772, 13)
circle(1058, 772, 9)
path([(1056, 775), (1064, 766)], width=1.5)
path([(1047, 827), (1058, 805), (1069, 827)], close=True)
path([(1052, 817), (1058, 821), (1064, 817)])
box(1047, 850, 1069, 872, line=INK, r=2)
path([(1047, 857), (1069, 857)])
path([(1052, 847), (1052, 853)])
path([(1064, 847), (1064, 853)])
path([(1048, 904), (1060, 904), (1068, 918)])
path([(1048, 910), (1055, 910), (1061, 918)])
circle(1050, 916, 1.5, fill=INK)
box(1046, 888, 1076, 904, fill='#f23645', r=8)
text(1061, 896, '99+', size=11, color='#ffffff')
path([(1048, 962), (1051, 958), (1051, 948), (1058, 942), (1065, 948), (1065, 958), (1068, 962)], close=True)
path([(1055, 965), (1061, 965)])
box(1053, 934, 1077, 950, fill='#f23645', r=8)
text(1065, 942, '59', size=11, color='#ffffff')
circle(1058, 998, 17, fill='#2e2e2e', line='#2e2e2e')
for y in [991, 998, 1005]:
    for x in [1051, 1058, 1065]:
        circle(x, y, 2, fill='#ffffff', line='#ffffff')
path([(1040, 1028), (1078, 1028)], color=EDGE)
circle(1058, 1056, 13.5)
text(1058, 1056, '?', size=16)

# Bottom bar
for x, s in [(79, '1D'), (109, '5D'), (140, '1M'), (172, '3M'), (204, '6M'), (239, 'YTD'), (272, '1Y'), (300, '5Y'),
             (328, 'All')]:
    text(x, 1061, s, size=13)
path([(350, 1048), (350, 1074)], color=EDGE)
box(362, 1054, 380, 1070, line=INK, r=2)
path([(362, 1058), (380, 1058)])
path([(359, 1064), (369, 1064)])
path([(366, 1061), (369, 1064), (366, 1067)])
text(924, 1061, '08:30:38 UTC+8', size=13.6)
path([(985, 1048), (985, 1074)], color=EDGE)
text(1008, 1061, 'ADJ', size=13)
path([(1001, 1020), (1007, 1023), (1007, 1031), (1001, 1034), (995, 1031), (995, 1023)], close=True)
circle(1001, 1027, 2.5)

# Signal labels on the chart
tag(29, 0.5648, 'Sell', 39, 34, 'rgba(255,82,82,0.9)', size=12)
tag(42, 0.4799, 'Buy', 29, 18, '#673ab7', size=11.5, color='#e8e0f5')
tag(77, 0.5491, 'Sell', 27, 19, '#000000', size=11.5, color='#f0f0f0')
tag(138.3, 0.3884, 'Buy', 29, 19, 'rgba(103,58,183,0.92)', size=12, color='#d8ccf0')
tag(171.2, 0.4355, 'Buy', 41, 32, 'rgba(0,0,0,0)', size=12)

# Account tooltip, painted last so it lies over the buttons
path([(25, 37), (18, 42), (32, 42)], color='#2e2e2e', fill='#2e2e2e', close=True)
notes.append(dict(xref='paper', yref='paper', x=fx(10), y=fy(42), xanchor='left', yanchor='top', width=211, height=42,
                  text=' ', showarrow=False, bgcolor='#2e2e2e', borderpad=0))
text(18, 55, 'Logged in as MahersahamOfficial', size=12.3, color='#e6e6e6', anchor='left')
text(18, 73, 'Active layout: INtraswing 1D', size=12.3, color='#e6e6e6', anchor='left')


x_common = dict(range=[-0.87, 181.73], domain=[56 / WIDTH, 969 / WIDTH], tickvals=month_ticks, ticktext=month_labels,
                showgrid=True, gridcolor=GRID, gridwidth=1, zeroline=False, showline=False, showticklabels=False,
                ticks='')


def y_domain(top, bottom):
    return [1 - bottom / HEIGHT, 1 - top / HEIGHT]


y_common = dict(side='right', showline=False, ticks='outside', ticklen=6, tickcolor='rgba(0,0,0,0)',
                gridcolor=GRID, zeroline=False, tickfont=dict(family=FONT, size=12, color=INK))

fig.update_layout(
    width=WIDTH,
    height=HEIGHT,
    autosize=False,
    margin=dict(l=0, r=0, t=0, b=0),
    paper_bgcolor='#ffffff',
    plot_bgcolor='#ffffff',
    barmode='overlay',
    showlegend=False,
    font=dict(family=FONT, size=12, color=INK),
    xaxis=dict(x_common, anchor='y', rangeslider=dict(visible=False)),
    yaxis=dict(domain=y_domain(42, 578), range=[0, 536], visible=False, fixedrange=True, anchor='x'),
    yaxis2=dict(y_common, overlaying='y', anchor='x', range=[0.3694, 0.628], tickvals=price_ticks, ticktext=price_labels,
                showgrid=True),
    yaxis3=dict(overlaying='y', anchor='x', range=[0, 536], visible=False),
    xaxis2=dict(x_common, anchor='y4'),
    yaxis4=dict(y_common, domain=y_domain(579, 671), anchor='x2', range=[-1.072, 1.594], tickvals=[-1, 0, 1],
                ticktext=['', '0', ''], showgrid=True),
    xaxis3=dict(x_common, anchor='y5'),
    yaxis5=dict(y_common, domain=y_domain(672, 772), anchor='x3', range=[-22, 78], tickvals=[0, 43],
                ticktext=['0', ''], showgrid=True),
    xaxis4=dict(x_common, anchor='y6'),
    yaxis6=dict(y_common, domain=y_domain(773, 883), anchor='x4', range=[-41.9, 29], tickvals=[-20, 0, 20],
                ticktext=['\u221220.00', '0.000', '20.00'], showgrid=True),
    xaxis5=dict(x_common, anchor='y7', showticklabels=True, ticks='outside', ticklen=2, tickcolor='rgba(0,0,0,0)',
                tickfont=dict(family=FONT, size=12, color=INK)),
    yaxis7=dict(y_common, domain=y_domain(884, 1015), anchor='x5', range=[-2.5, 22.7], tickvals=[0, 10, 20],
                ticktext=['0.000', '10.00', '20.00'], showgrid=True),
    shapes=shapes,
    annotations=notes,
)

fig.write_html("out.html", config={'displayModeBar': False},
               post_script="document.body.style.margin='0';document.body.style.overflow='hidden';")
